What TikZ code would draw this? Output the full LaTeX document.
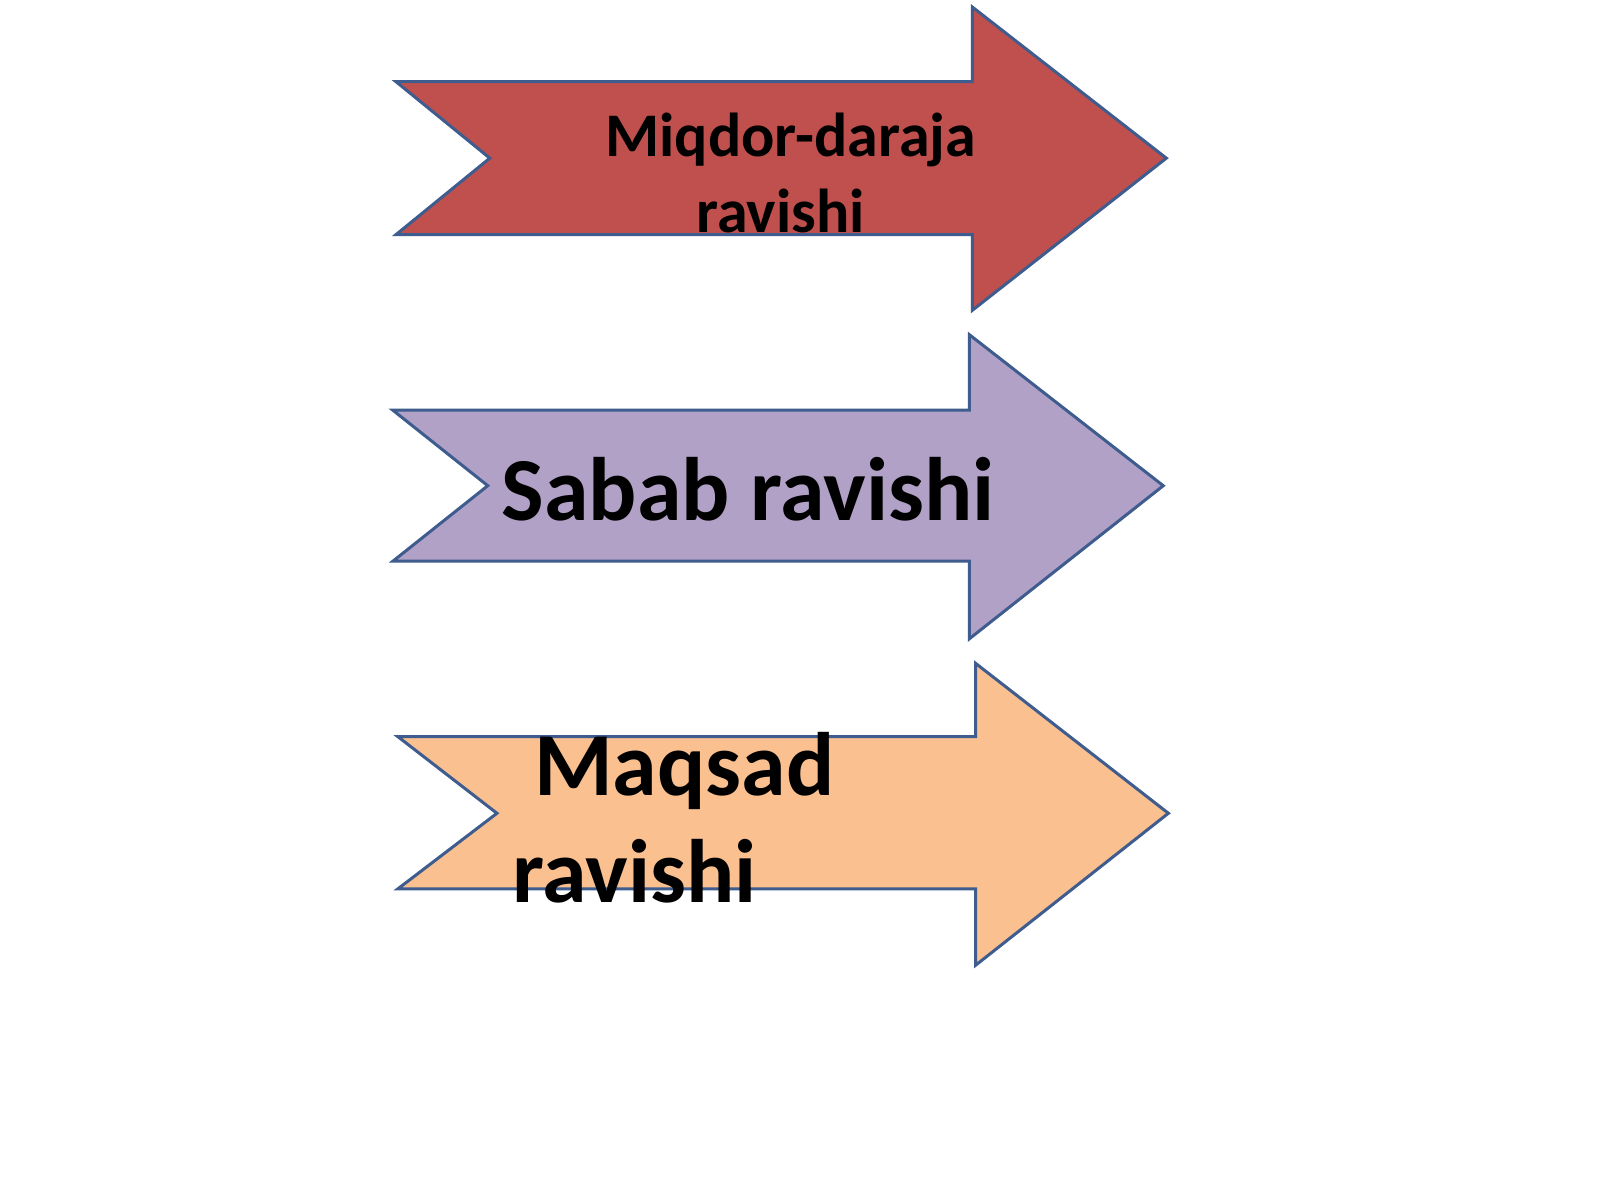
\documentclass[tikz,border=0pt]{standalone}
\usepackage{fontspec}
\setmainfont{Carlito}
\definecolor{edge}{HTML}{3E5C8E}
\definecolor{fa}{HTML}{C0504D}
\definecolor{fb}{HTML}{B2A1C7}
\definecolor{fc}{HTML}{FAC090}
\tikzset{arr/.style={draw=edge,line width=1.5pt,line join=miter},
 lbl/.style={anchor=base,inner sep=0pt,font=\bfseries}}
\begin{document}
\begin{tikzpicture}[x=0.51pt,y=-0.51pt]
\useasboundingbox (0,0) rectangle (1568,1176);
\fill[white] (0,0) rectangle (1568,1176);
\draw[arr,fill=fa] (388,80) -- (953,80) -- (953,7) -- (1143,155) -- (953,304) -- (953,230) -- (388,230) -- (480,155) -- cycle;
\draw[arr,fill=fb] (385,402) -- (950,402) -- (950,328) -- (1140,476) -- (950,626) -- (950,550) -- (385,550) -- (478,476) -- cycle;
\draw[arr,fill=fc] (390,722) -- (956,722) -- (956,650) -- (1145,797) -- (956,946) -- (956,871) -- (390,871) -- (487,797) -- cycle;
\node[lbl,font=\bfseries\fontsize{31}{37}\selectfont] (t1) at (775,153) {Miqdor-daraja};
\node[lbl,font=\bfseries\fontsize{31}{37}\selectfont] (t2) at (765,228) {ravishi};
\node[lbl,font=\bfseries\fontsize{45}{54}\selectfont] (t3) at (733,510) {Sabab ravishi};
\node[lbl,anchor=base west,font=\bfseries\fontsize{45}{54}\selectfont] (t4) at (523,780) {Maqsad};
\node[lbl,anchor=base west,font=\bfseries\fontsize{45}{54}\selectfont] (t5) at (502,884) {ravishi};
\end{tikzpicture}
\end{document}
